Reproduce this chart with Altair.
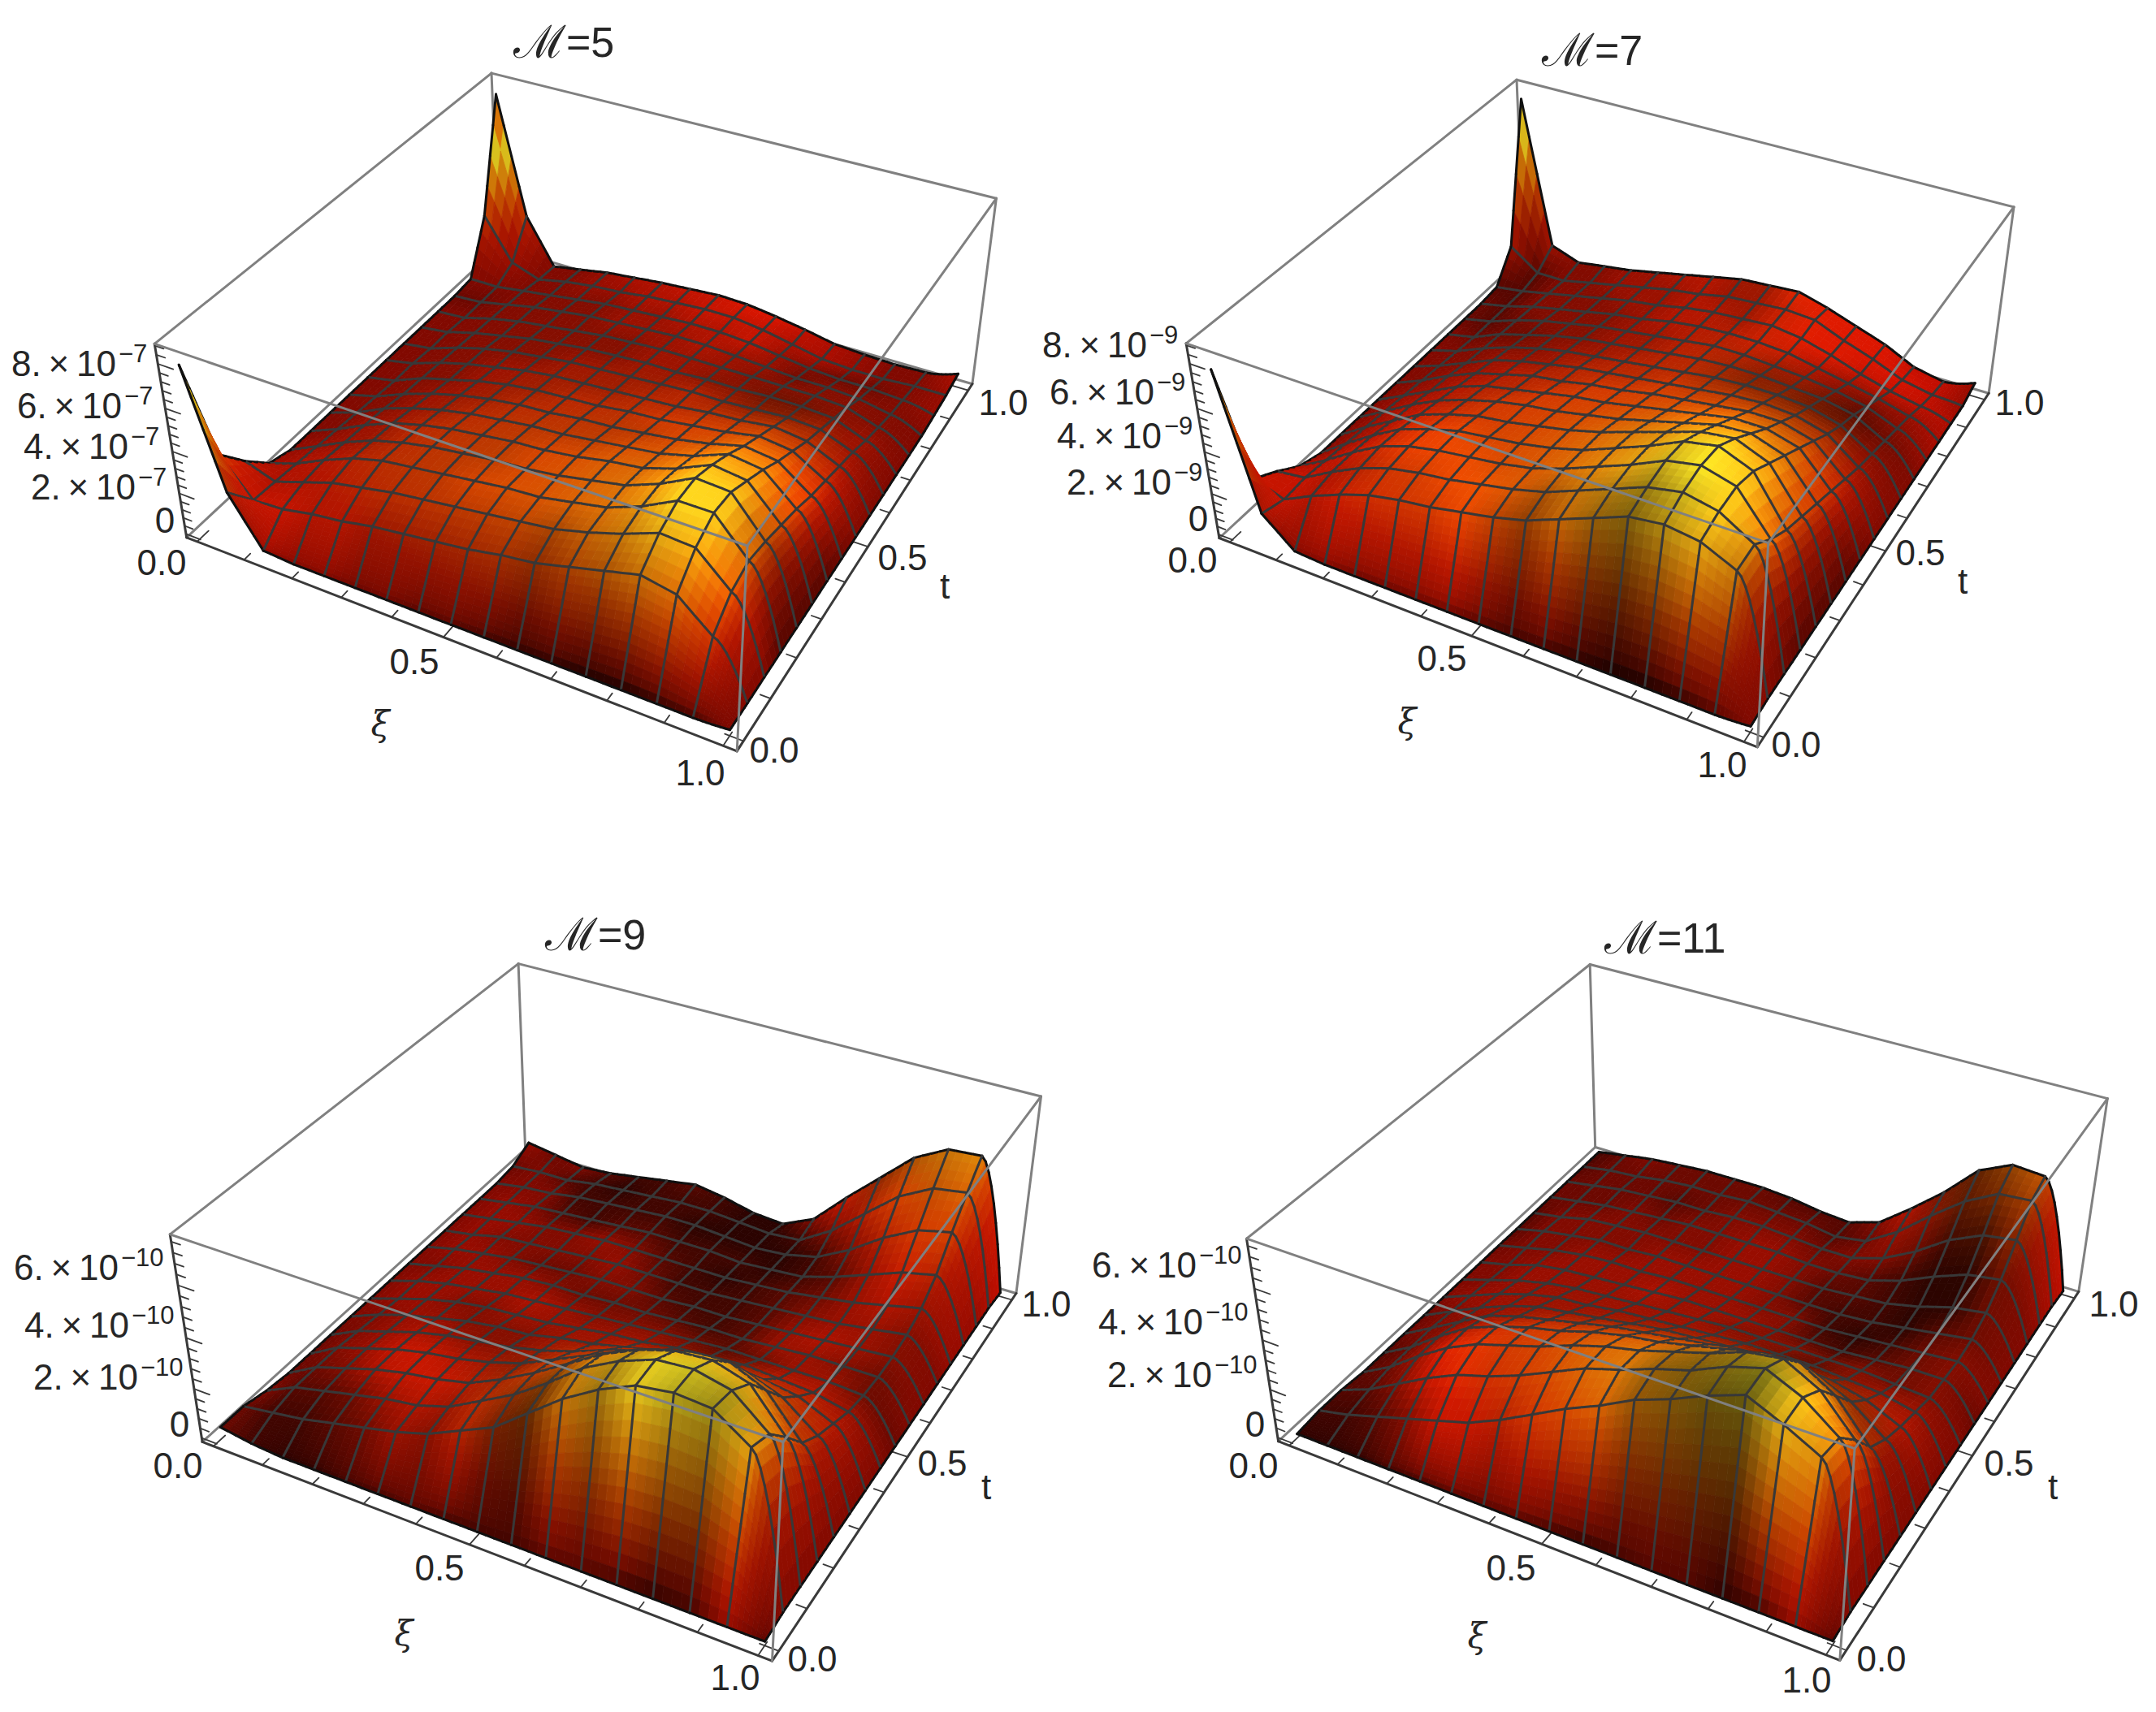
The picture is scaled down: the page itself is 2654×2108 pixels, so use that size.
import numpy as np
import altair as alt

W, H = 2638, 2092
OX, OY = 8, 8
N = 17
SUB = 4
WALL_SUB = 12
EDGE_SUB = 8
PAD_XY = 0.022
PAD_Z = 0.02

TITLE_EQ = ["=5", "=7", "=9", "=11"]
Z_TOP = [8.7, 8.7, 7.7, 7.7]
Z_COLOR = [5.75, 7.1, 6.9, 7.1]
Z_TICK_LABELS = [[8, 6, 4, 2], [8, 6, 4, 2], [2, 4, 6], [2, 4, 6]]
Z_EXP = ["\u22127", "\u22129", "\u221210", "\u221210"]

Z_M5 = [
 [7.8,2.4,0.1,0,0,0,0,0,0,0,0,0,0,0,0,0,0.1],
 [2.7,1.0,1.1,1.4,1.6,1.9,2.1,2.3,2.5,2.8,3.0,3.4,3.8,4.2,3.9,2.6,0.1],
 [1.4,0.9,1.4,1.9,2.2,2.5,2.7,2.9,3.1,3.3,3.5,3.9,4.4,5.0,4.9,3.5,0.1],
 [0.3,0.8,1.5,2.1,2.5,2.7,2.9,3.1,3.3,3.4,3.7,4.0,4.6,5.4,5.4,3.8,0.1],
 [0,0.7,1.4,2.0,2.4,2.7,2.9,3.1,3.2,3.4,3.7,4.0,4.6,5.4,5.3,3.6,0.1],
 [0,.6,1.3,1.9,2.3,2.6,2.8,3.0,3.1,3.3,3.6,3.8,4.3,5.0,4.8,3.3,.1],
 [0,.5,1.2,1.7,2.1,2.4,2.6,2.8,2.9,3.1,3.3,3.5,3.9,4.5,4.3,3.0,.1],
 [0,.4,1.0,1.5,1.9,2.2,2.4,2.5,2.7,2.8,3.0,3.2,3.5,3.9,3.7,2.6,.1],
 [0,.3,.9,1.3,1.7,2.0,2.2,2.3,2.4,2.6,2.7,2.9,3.1,3.4,3.2,2.3,.1],
 [0,.3,.8,1.2,1.5,1.8,2.0,2.1,2.2,2.3,2.4,2.6,2.7,2.9,2.7,2.0,.1],
 [0,.2,.7,1.1,1.4,1.6,1.8,1.9,2.0,2.1,2.2,2.2,2.3,2.4,2.3,1.7,.1],
 [0,.2,.6,.9,1.2,1.4,1.6,1.7,1.8,1.8,1.9,1.9,2.0,2.0,1.9,1.3,.1],
 [0,.1,.5,.8,1.0,1.2,1.4,1.5,1.6,1.6,1.6,1.6,1.6,1.6,1.5,1.0,.1],
 [0,.1,.4,.7,.9,1.1,1.2,1.3,1.4,1.4,1.3,1.2,1.1,1.1,1.0,.7,.1],
 [.1,.1,.3,.5,.7,.9,1.0,1.1,1.2,1.2,1.1,.9,.7,.6,.6,.5,.2],
 [2.7,.6,.1,.4,.6,.7,.9,1.0,1.1,1.1,.9,.6,.3,.2,.2,.3,.3],
 [8.2,2.3,0,.25,.5,.65,.8,.9,1.0,.95,.75,.5,.2,.1,.05,.1,.5],
]
Z_M7 = [
 [7.6,1.4,.1,0,0,0,0,0,0,0,0,0,0,0,0,0,0.1],
 [1.6,1.1,1.8,2.4,2.9,3.2,3.4,3.7,4.0,4.4,5.0,5.6,6.2,6.4,6.2,5.5,.2],
 [1.0,1.2,2.0,2.7,3.2,3.5,3.7,4.0,4.3,4.7,5.3,5.9,6.5,6.8,6.5,5.6,.2],
 [.3,1.1,2.0,2.8,3.3,3.6,3.8,4.0,4.3,4.8,5.4,6.0,6.7,7.0,6.6,4.8,.2],
 [0,1.0,1.9,2.7,3.2,3.6,3.8,4.0,4.3,4.7,5.3,5.9,6.6,6.9,6.3,4.2,.2],
 [0,.9,1.7,2.5,3.0,3.4,3.6,3.9,4.2,4.6,5.1,5.6,6.1,6.3,5.7,3.8,.2],
 [0,.8,1.6,2.3,2.8,3.2,3.5,3.7,4.0,4.3,4.7,5.1,5.5,5.6,5.1,3.4,.2],
 [0,.7,1.4,2.1,2.6,2.9,3.2,3.5,3.7,4.0,4.3,4.6,4.9,4.9,4.5,3.0,.2],
 [0,.6,1.3,1.9,2.3,2.7,2.9,3.2,3.4,3.7,3.9,4.1,4.3,4.3,3.9,2.6,.2],
 [0,.5,1.1,1.7,2.1,2.4,2.7,2.9,3.1,3.3,3.5,3.7,3.8,3.7,3.3,2.2,.2],
 [0,.4,1.0,1.5,1.9,2.2,2.4,2.6,2.8,3.0,3.2,3.3,3.3,3.2,2.8,1.9,.2],
 [0,.3,.9,1.3,1.7,2.0,2.2,2.4,2.6,2.8,2.9,2.9,2.8,2.7,2.4,1.6,.2],
 [0,.3,.8,1.2,1.5,1.8,2.0,2.2,2.4,2.6,2.6,2.5,2.4,2.2,1.9,1.3,.2],
 [0,.3,.7,1.0,1.3,1.6,1.8,2.1,2.3,2.4,2.4,2.3,2.0,1.7,1.4,1.0,.2],
 [.1,.3,.6,.9,1.2,1.5,1.7,2.0,2.2,2.3,2.4,2.2,1.8,1.3,.9,.6,.2],
 [1.5,.5,.5,.8,1.1,1.4,1.7,1.9,2.2,2.3,2.4,2.3,1.7,1.2,.6,.3,.2],
 [8.3,1.2,.7,.9,1.1,1.4,1.7,2.0,2.3,2.4,2.5,2.1,1.6,1.1,.4,.1,.5],
]
Z_M9 = [
 [.3,.1,0,0,0,0,0,0,0,0,0,0,0,0,0,0,0],
 [.3,.5,.7,1.0,1.3,1.6,2.0,2.6,3.2,4.2,5.2,6.0,6.6,6.8,6.7,5.8,.1],
 [.1,.7,1.0,1.3,1.6,1.8,2.2,2.9,3.6,4.5,5.5,6.2,6.7,6.8,6.5,5.4,.1],
 [0,.7,1.1,1.5,1.8,2.0,2.3,2.9,3.6,4.4,5.2,5.8,6.2,6.3,5.9,4.4,.1],
 [0,.7,1.1,1.5,1.8,2.0,2.3,2.7,3.3,3.9,4.5,5.0,5.3,5.4,4.8,3.3,.1],
 [0,.6,1.0,1.4,1.7,1.9,2.1,2.4,2.8,3.3,3.7,4.0,4.2,4.2,3.7,2.7,.1],
 [0,.5,.9,1.2,1.5,1.7,1.8,2.1,2.3,2.6,2.9,3.1,3.2,3.1,2.9,2.3,.1],
 [0,.4,.8,1.1,1.3,1.4,1.5,1.7,1.9,2.0,2.2,2.3,2.4,2.3,2.2,1.9,.1],
 [0,.4,.7,.9,1.1,1.2,1.3,1.4,1.5,1.6,1.7,1.8,1.8,1.8,1.8,1.7,.1],
 [0,.3,.6,.8,1.0,1.1,1.1,1.2,1.2,1.3,1.4,1.4,1.5,1.6,1.6,1.6,.1],
 [0,.3,.5,.7,.8,.9,1.0,1.0,1.0,1.1,1.1,1.2,1.3,1.4,1.5,1.6,.1],
 [0,.2,.5,.6,.7,.8,.9,.9,.9,.9,1.0,1.1,1.2,1.3,1.5,1.7,.1],
 [0,.2,.4,.6,.7,.8,.8,.8,.8,.8,.9,1.0,1.2,1.4,1.7,2.0,.1],
 [0,.2,.4,.5,.6,.7,.8,.8,.8,.7,.8,.9,1.3,1.8,2.3,2.6,.1],
 [0,.2,.3,.5,.6,.7,.8,.8,.7,.6,.7,1.0,1.7,2.6,3.3,3.6,.1],
 [.1,.2,.2,.4,.5,.6,.7,.7,.6,.5,.6,1.4,2.5,3.6,4.3,4.5,.1],
 [.5,.3,.1,.2,.4,.6,.8,.6,.3,.2,.8,2.1,3.3,4.5,5.2,5.3,0],
]
Z_M11 = [
 [0,0,0,0,0,0,0,0,0,0,0,0,0,0,0,0,0],
 [.1,.4,.8,1.2,1.6,2.0,2.6,3.3,4.0,4.6,5.3,5.8,6.4,6.9,6.3,5.6,.1],
 [.1,.6,1.3,2.0,2.6,3.0,3.5,4.1,4.7,5.1,5.6,6.0,6.6,7.0,6.4,5.4,.1],
 [0,.7,1.6,2.4,3.0,3.4,3.8,4.3,4.7,5.0,5.4,5.8,6.3,6.5,5.8,4.4,.1],
 [0,.7,1.6,2.4,2.9,3.3,3.6,4.0,4.3,4.5,4.8,5.1,5.4,5.5,4.7,3.2,.1],
 [0,.7,1.4,2.1,2.5,2.8,3.1,3.4,3.6,3.8,4.0,4.2,4.3,4.2,3.6,2.6,.1],
 [0,.6,1.2,1.7,2.1,2.3,2.5,2.7,2.9,3.0,3.1,3.2,3.2,3.1,2.8,2.2,.1],
 [0,.5,1.0,1.4,1.7,1.8,2.0,2.1,2.2,2.3,2.4,2.4,2.4,2.3,2.2,1.9,.1],
 [0,.4,.8,1.1,1.3,1.4,1.5,1.6,1.7,1.8,1.8,1.8,1.8,1.8,1.7,1.6,.1],
 [0,.3,.7,.9,1.0,1.1,1.2,1.3,1.3,1.3,1.3,1.3,1.3,1.4,1.5,1.5,.1],
 [0,.3,.6,.8,.9,.9,1.0,1.0,1.0,1.0,1.0,1.0,1.1,1.2,1.3,1.4,.1],
 [0,.3,.5,.7,.7,.8,.8,.8,.8,.8,.8,.8,.9,1.1,1.3,1.5,.1],
 [0,.2,.5,.6,.7,.7,.7,.7,.7,.7,.7,.8,.9,1.2,1.6,1.8,.1],
 [0,.2,.4,.5,.6,.7,.7,.7,.7,.6,.6,.7,1.1,1.7,2.2,2.4,.1],
 [0,.2,.4,.5,.6,.6,.7,.7,.6,.5,.5,.9,1.6,2.5,3.1,3.3,.1],
 [0,.2,.3,.5,.6,.6,.7,.6,.5,.3,.5,1.3,2.4,3.4,4.1,4.2,.1],
 [0,.2,.4,.5,.6,.6,.6,.5,.3,.2,.6,1.6,2.7,4.0,4.6,4.5,0],
]

LIGHT_M5 = [
 "7 6 6 5 5 4 4 3 3 2 1 1 0 0 1 2 5",
 "8 8 8 7 7 6 6 6 6 6 5 6 6 7 8 8 5",
 "8 7 7 7 7 7 7 7 7 7 6 7 7 8 9 9 5",
 "6 7 7 7 7 7 7 8 8 8 8 8 8 9 9 8 3",
 "6 6 6 6 7 7 7 7 8 8 8 8 9 9 9 7 3",
 "5 5 6 6 7 7 7 7 8 8 8 8 9 9 9 8 3",
 "5 5 5 6 6 7 7 7 7 7 8 8 9 9 9 9 3",
 "5 5 5 6 6 6 7 7 7 7 7 8 8 9 9 9 4",
 "5 5 5 5 6 6 6 7 7 7 8 8 8 8 8 8 5",
 "5 5 5 5 6 6 6 6 6 7 7 7 7 7 7 7 5",
 "5 5 5 5 5 5 6 6 6 6 7 6 5 5 6 6 5",
 "5 5 5 5 5 5 5 5 6 6 5 5 4 4 5 6 5",
 "5 5 5 5 5 5 5 5 6 6 6 5 5 5 5 5 5",
 "4 4 5 5 5 5 6 6 6 7 6 6 4 5 5 5 5",
 "5 5 5 5 5 5 6 6 7 7 8 6 5 4 4 5 6",
 "7 6 5 5 6 6 7 7 8 8 8 7 7 6 5 5 6",
 "8 7 5 5 6 7 7 8 8 9 9 8 7 6 5 5 7",
]
LIGHT_M7 = [
 "7 6 5 5 4 4 4 4 3 2 2 1 0 0 1 3 5",
 "8 8 7 8 8 8 8 9 7 5 7 5 4 6 8 7 5",
 "8 8 7 7 8 8 9 9 8 6 7 6 5 7 9 8 4",
 "7 7 8 8 9 9 9 8 8 8 8 8 7 9 9 9 3",
 "5 6 7 8 9 9 8 8 8 8 8 8 8 9 9 8 3",
 "5 6 7 8 8 8 8 8 8 8 8 8 9 9 9 8 3",
 "5 6 7 7 7 8 8 8 8 8 8 9 9 9 8 8 3",
 "5 6 6 7 7 7 8 8 8 8 8 9 9 8 8 8 4",
 "5 5 6 6 7 7 7 8 8 8 8 8 8 7 7 7 5",
 "5 5 5 6 6 6 7 7 7 8 7 7 6 6 6 6 5",
 "5 5 5 5 5 6 6 7 7 7 6 5 5 4 4 5 5",
 "5 4 4 4 5 5 6 6 7 7 6 5 5 4 3 4 5",
 "4 3 4 5 5 5 6 6 7 7 7 6 6 5 4 5 6",
 "4 3 5 5 5 5 6 7 7 7 8 8 7 6 6 6 7",
 "3 3 5 5 5 6 6 7 7 6 8 9 9 8 8 8 7",
 "6 3 5 5 6 6 6 7 6 6 8 9 9 9 9 8 6",
 "8 6 5 5 6 6 7 7 6 6 9 9 9 9 8 8 6",
]
LIGHT_M9 = [
 "4 2 1 1 2 2 3 2 2 2 3 3 2 1 2 6 3",
 "4 2 2 3 4 6 5 7 4 3 7 5 8 6 5 8 5",
 "5 3 3 4 6 7 6 7 5 4 7 6 8 7 6 8 5",
 "4 4 5 7 8 8 7 6 7 6 8 7 8 8 8 8 5",
 "4 5 6 8 8 7 6 5 7 7 8 8 8 8 7 7 5",
 "4 5 6 7 6 5 5 6 7 7 8 7 7 7 7 7 5",
 "5 5 6 6 5 5 5 6 6 7 6 6 6 7 7 7 5",
 "5 6 6 5 5 6 6 6 6 6 5 4 5 7 7 6 5",
 "5 6 6 6 6 7 6 5 5 5 4 3 4 6 6 4 4",
 "5 5 6 6 6 5 4 4 4 3 2 3 6 6 5 4 5",
 "5 6 6 5 4 4 5 5 3 2 2 3 6 7 6 5 5",
 "5 6 5 5 5 5 6 4 2 2 2 3 5 6 6 5 5",
 "5 6 6 5 5 6 5 3 2 1 2 3 4 6 7 6 6",
 "5 6 5 3 2 3 3 2 2 2 1 2 3 6 8 7 6",
 "5 5 5 2 2 2 2 1 1 1 1 2 5 7 8 8 6",
 "4 5 3 2 1 2 2 2 1 1 2 5 7 8 7 8 7",
 "6 4 5 3 2 2 3 2 1 1 5 8 5 6 7 8 8",
]
LIGHT_M11 = [
 "1 1 1 2 2 3 3 3 2 1 2 3 3 1 2 6 3",
 "2 2 3 5 8 8 7 8 8 8 5 4 3 3 8 8 5",
 "3 3 5 8 9 8 8 8 8 8 5 4 4 4 9 9 5",
 "3 4 6 9 9 8 8 8 8 8 6 5 5 6 9 8 5",
 "3 4 6 7 8 8 8 8 8 8 7 8 8 8 6 6 5",
 "4 5 5 6 6 7 7 7 7 7 7 7 6 5 5 6 5",
 "4 5 6 6 6 6 6 6 6 6 6 5 4 5 6 7 5",
 "5 6 6 6 6 6 6 6 6 6 5 4 3 5 6 6 5",
 "5 5 6 6 6 6 6 6 6 5 5 5 4 5 4 5 5",
 "5 5 6 6 6 6 7 6 6 6 5 3 2 3 4 5 4",
 "4 5 5 6 6 6 6 6 6 5 5 2 1 2 4 5 5",
 "3 5 5 5 5 6 6 6 6 5 3 2 2 1 3 4 5",
 "3 5 5 5 5 5 5 6 6 5 3 3 2 1 1 4 5",
 "4 4 4 5 4 5 5 6 6 5 4 3 2 1 1 4 5",
 "4 4 4 4 3 4 5 5 5 4 5 5 4 2 2 5 6",
 "3 4 4 4 4 4 4 4 4 3 4 6 5 3 4 6 7",
 "2 4 5 4 4 4 4 3 3 3 5 7 4 3 5 7 8",
]

CORNER_KEYS = [(0,1,1),(1,1,1),(0,0,1),(1,0,1),(0,0,0),(1,0,0),(1,1,0),(0,1,0)]
CORNERS = [
 [(603,87),(1227,251),(192,419),(920,673),(230,663),(905,927),(1198,464),(614,309)],
 [(1866,96),(2479,256),(1462,423),(2176,670),(1499,661),(2164,920),(2448,482),(1877,318)],
 [(637,1187),(1282,1349),(210,1521),(964,1775),(248,1775),(951,2045),(1250,1594),(648,1414)],
 [(1957,1187),(2595,1353),(1535,1526),(2282,1783),(1573,1774),(2266,2045),(2558,1590),(1964,1413)],
]
TITLE_SPLIT = [(697,54),(1963,64),(736,1153),(2040,1157)]
XI_LABELS = [
 [(199,695),(510,817),(862,954)],
 [(1468,692),(1775,813),(2120,944)],
 [(219,1807),(541,1933),(905,2068)],
 [(1543,1807),(1860,1933),(2224,2071)],
]
T_LABELS = [
 [(953,926),(1111,689),(1235,498)],
 [(2211,919),(2364,683),(2486,498)],
 [(1000,2045),(1160,1804),(1288,1608)],
 [(2316,2045),(2473,1804),(2602,1608)],
]
XI_NAME_POS = [(468,893),(1732,890),(497,2013),(1818,2016)]
T_NAME_POS = [(1163,724),(2416,718),(1214,1833),(2527,1833)]
Z_ZERO_POS = [(203,643),(1475,641),(221,1756),(1545,1756)]
Z_LABEL_POS = [
 [(143,463),(150,515),(158,565),(167,615)],
 [(1412,440),(1421,498),(1430,552),(1442,609)],
 [(170,1711),(159,1647),(146,1576)],
 [(1492,1708),(1481,1643),(1473,1573)],
]
TICK_TEXT = ["0.0", "0.5", "1.0"]


def solve_camera(corners):
    rows = []
    for (xi, t, z), (u, v) in zip(CORNER_KEYS, corners):
        X = [xi, t, z, 1]
        rows.append([*X, 0, 0, 0, 0, *[-u * c for c in X]])
        rows.append([0, 0, 0, 0, *X, *[-v * c for c in X]])
    _, _, vt = np.linalg.svd(np.array(rows, float))
    return vt[-1].reshape(3, 4)


def project(P, xi, t, z):
    X = np.stack([xi, t, z, np.ones_like(xi)], axis=-1)
    h = X @ P.T
    return h[..., 0] / h[..., 2] - OX, h[..., 1] / h[..., 2] - OY


def box_xy(v):
    return PAD_XY + (1 - 2 * PAD_XY) * v


def box_z(v):
    return PAD_Z + (1 - 2 * PAD_Z) * v


STOPS_F = [0, .3, .55, .75, .9, 1]
STOPS_C = np.array([[215,15,0],[225,28,0],[240,80,0],[250,145,10],[255,200,25],[255,240,40]], float)


def colour(f, light):
    if f > 1:                      # the narrow spikes stay orange in the reference
        f = 1 - .28 * min(1, (f - 1) / .1)
    m = 0.1 + 0.1 * light
    rgb = [np.interp(f, STOPS_F, STOPS_C[:, k]) * m for k in range(3)]
    return "#%02x%02x%02x" % tuple(int(min(255, max(0, c))) for c in rgb)


def parse_light(rows):
    out = []
    for r in rows:
        d = [float(c) for c in r.split()]
        out.append((d + d[-1:] * N)[:N])
    return np.array(out)


def line_feature(pts, col, w):
    return {"type": "Feature",
            "geometry": {"type": "LineString", "coordinates": [[round(float(a), 1), round(float(b), 1)] for a, b in pts]},
            "properties": {"c": "transparent", "s": col, "w": w}}


MESH = "#383838"
EDGE = "#101010"
FRAME = "#808080"
AXIS = "#3a3a3a"

T_PARAM = np.concatenate([np.arange(WALL_SUB) / WALL_SUB] + [k + np.arange(SUB) / SUB for k in range(1, N - 1)] + [[N - 1.0]])
X_PARAM = np.concatenate([k + np.arange(SUB) / SUB for k in range(N - 2)] + [N - 2 + np.arange(EDGE_SUB) / EDGE_SUB] + [[N - 1.0]])
T_N = T_PARAM / (N - 1)
X_N = X_PARAM / (N - 1)
R, C = len(T_PARAM), len(X_PARAM)

features = []
labels_center, labels_right, labels_sup, titles_script, titles_eq, greek = [], [], [], [], [], []

SURFACES = [Z_M5, Z_M7, Z_M9, Z_M11]
LIGHTS = [LIGHT_M5, LIGHT_M7, LIGHT_M9, LIGHT_M11]

for p in range(4):
    P = solve_camera(CORNERS[p])
    ztop = Z_TOP[p]
    Z = np.array(SURFACES[p], float)
    L = parse_light(LIGHTS[p])

    def pt(xi, t, z):
        a, b = project(P, np.array(float(xi)), np.array(float(t)), np.array(float(z)))
        return float(a), float(b)

    def seg(a, b, col, w):
        features.append(line_feature([pt(*a), pt(*b)], col, w))

    for a, b in [((0,1,1),(1,1,1)), ((0,1,1),(0,0,1)), ((0,1,1),(0,1,0)), ((0,0,0),(0,1,0)),
                 ((0,1,0),(1,1,0)), ((1,1,0),(1,1,1))]:
        seg(a, b, FRAME, 3)
    seg((0,0,0), (1,0,0), AXIS, 3)
    seg((1,0,0), (1,1,0), AXIS, 3)
    seg((0,0,0), (0,0,1), AXIS, 3)
    for k in range(11):
        v = box_xy(k / 10)
        ln = .03 if k % 5 == 0 else .017
        seg((v, 0, 0), (v, ln, 0), AXIS, 1.8)
        seg((1, v, 0), (1 - ln, v, 0), AXIS, 1.8)
    zv = 0.0
    while box_z(zv / ztop) <= 1:
        major = abs(zv / 2 - round(zv / 2)) < 1e-6
        ln = .03 if major else .017
        zb = box_z(zv / ztop)
        seg((0, 0, zb), (ln, 0, zb), AXIS, 1.8)
        zv = round(zv + .4, 4)

    items = []
    Zf = np.zeros((R, C))
    Zc = np.zeros((R, C))
    Lf = np.zeros((R, C))
    for a, tp in enumerate(T_PARAM):
        jj = min(int(tp), N - 2)
        v = tp - jj
        for b, xp in enumerate(X_PARAM):
            ii = min(int(xp), N - 2)
            u = xp - ii
            uz = u ** 1.6 if ii == N - 2 else u
            vl = v ** 0.45 if jj == 0 else v
            vc = v ** 0.6 if jj == 0 else v
            Zf[a, b] = (Z[jj, ii]*(1-uz)*(1-v) + Z[jj, ii+1]*uz*(1-v) + Z[jj+1, ii]*(1-uz)*v + Z[jj+1, ii+1]*uz*v)
            Zc[a, b] = (Z[jj, ii]*(1-u)*(1-vc) + Z[jj, ii+1]*u*(1-vc) + Z[jj+1, ii]*(1-u)*vc + Z[jj+1, ii+1]*u*vc)
            Lf[a, b] = (L[jj, ii]*(1-u)*(1-vl) + L[jj, ii+1]*u*(1-vl) + L[jj+1, ii]*(1-u)*vl + L[jj+1, ii+1]*u*vl)
    XI, TT = np.meshgrid(box_xy(X_N), box_xy(T_N))
    U, V = project(P, XI, TT, box_z(Zf / ztop))
    U, V = np.round(U, 1), np.round(V, 1)
    for a in range(R - 1):
        tc = (T_N[a] + T_N[a+1]) / 2
        for b in range(C - 1):
            xc = (X_N[b] + X_N[b+1]) / 2
            c = colour(Zc[a:a+2, b:b+2].mean() / Z_COLOR[p], Lf[a:a+2, b:b+2].mean())
            ring = [[float(U[a, b]), float(V[a, b])], [float(U[a, b+1]), float(V[a, b+1])],
                    [float(U[a+1, b+1]), float(V[a+1, b+1])], [float(U[a+1, b]), float(V[a+1, b])],
                    [float(U[a, b]), float(V[a, b])]]
            items.append(((1 - xc) + tc, {"type": "Feature", "geometry": {"type": "Polygon", "coordinates": [ring]},
                                          "properties": {"c": c, "s": c, "w": 0.8}}))
    for a in range(R):
        if abs(T_PARAM[a] - round(T_PARAM[a])) < 1e-9:
            col = EDGE if a in (0, R - 1) else MESH
            tnear = (T_N[a-1] + T_N[a]) / 2 if a > 0 else T_N[a]
            for b in range(C - 1):
                xmid = (X_N[b] + X_N[b+1]) / 2
                items.append(((1 - xmid) + tnear - 1e-5, line_feature([(U[a, b], V[a, b]), (U[a, b+1], V[a, b+1])], col, 3)))
    for b in range(C):
        if abs(X_PARAM[b] - round(X_PARAM[b])) < 1e-9:
            col = EDGE if b in (0, C - 1) else MESH
            xnear = (X_N[b] + X_N[b+1]) / 2 if b < C - 1 else X_N[b]
            for a in range(R - 1):
                tmid = (T_N[a] + T_N[a+1]) / 2
                items.append(((1 - xnear) + tmid - 1e-5, line_feature([(U[a, b], V[a, b]), (U[a+1, b], V[a+1, b])], col, 3)))
    items.sort(key=lambda e: -e[0])
    features.extend(e[1] for e in items)

    seg((0,0,1), (1,0,1), FRAME, 3)
    seg((1,0,1), (1,1,1), FRAME, 3)
    seg((1,0,1), (1,0,0), FRAME, 3)

    for (x, y), s in zip(XI_LABELS[p] + T_LABELS[p], TICK_TEXT + TICK_TEXT):
        labels_center.append({"x": x - OX, "y": y - OY, "s": s})
    labels_center.append({"x": Z_ZERO_POS[p][0] - OX, "y": Z_ZERO_POS[p][1] - OY, "s": "0"})
    labels_center.append({"x": T_NAME_POS[p][0] - OX, "y": T_NAME_POS[p][1] - OY, "s": "t"})
    greek.append({"x": XI_NAME_POS[p][0] - OX, "y": XI_NAME_POS[p][1] - OY, "s": "\u03be"})
    tx, ty = TITLE_SPLIT[p]
    titles_script.append({"x": tx - OX, "y": ty - OY, "s": "\u2133"})
    titles_eq.append({"x": tx - OX, "y": ty - OY, "s": TITLE_EQ[p]})
    for (x, y), v in zip(Z_LABEL_POS[p], Z_TICK_LABELS[p]):
        labels_right.append({"x": x - OX, "y": y - OY, "s": f"{v}.\u2009\u00d7\u200910"})
        labels_sup.append({"x": x - OX + 3, "y": y - OY - 17, "s": Z_EXP[p]})

shapes = alt.Chart(alt.Data(values=features)).mark_geoshape(strokeCap="round", strokeJoin="round").encode(
    fill=alt.Fill("properties.c:N", scale=None),
    stroke=alt.Stroke("properties.s:N", scale=None),
    strokeWidth=alt.StrokeWidth("properties.w:Q", scale=None),
).project(type="identity", scale=1, translate=[0, 0])


def text_layer(rows, **kw):
    return alt.Chart(alt.Data(values=rows)).mark_text(color="#262626", **kw).encode(
        x=alt.X("x:Q", scale=None, axis=None),
        y=alt.Y("y:Q", scale=None, axis=None),
        text="s:N",
    )


chart = alt.layer(
    shapes,
    text_layer(labels_center, font="Liberation Sans", fontSize=44, align="center", baseline="middle"),
    text_layer(labels_right, font="Liberation Sans", fontSize=44, align="right", baseline="alphabetic"),
    text_layer(labels_sup, font="Liberation Sans", fontSize=31, align="left", baseline="alphabetic"),
    text_layer(titles_script, font="Liberation Sans", fontSize=56, align="right", baseline="middle"),
    text_layer(titles_eq, font="Liberation Sans", fontSize=52, align="left", baseline="middle"),
    text_layer(greek, font="DejaVu Serif", fontSize=42, fontStyle="italic", align="center", baseline="middle"),
).properties(width=W, height=H, padding=0, background="white").configure_view(stroke=None)

chart.save("out.html", embed_options={"renderer": "svg", "actions": False})
